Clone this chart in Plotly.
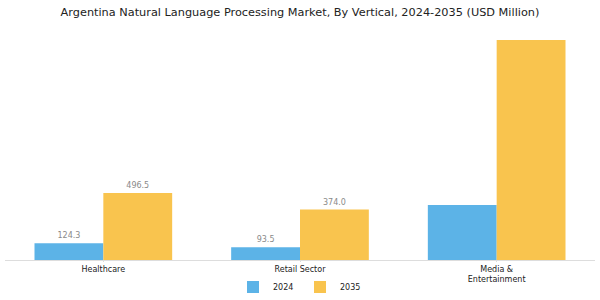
import plotly.graph_objects as go

categories = ["Healthcare", "Retail Sector", "Media &<br>Entertainment"]
years = ["2024", "2035"]
values_2024 = [124.3, 93.5, 408.0]
values_2035 = [496.5, 374.0, 1630.0]
labels_2024 = ["124.3", "93.5", ""]
labels_2035 = ["496.5", "374.0", ""]
colors = ["#5cb3e7", "#f9c44e"]

fig = go.Figure()
for name, vals, labs, col in zip(years, [values_2024, values_2035], [labels_2024, labels_2035], colors):
    fig.add_trace(go.Bar(
        x=categories, y=vals, name=name, text=labs,
        textposition="outside", cliponaxis=False,
        textfont=dict(size=8, color="#8a8a8a", family="DejaVu Sans"),
        marker=dict(color=col, line=dict(width=0)),
    ))

ymax = max(values_2035) * 1.045
fig.update_layout(
    width=600, height=300,
    margin=dict(l=5, r=5, t=30, b=40, autoexpand=False),
    barmode="group", bargap=0.3, bargroupgap=0,
    plot_bgcolor="white", paper_bgcolor="white",
    font=dict(family="DejaVu Sans", color="#222222"),
    title=dict(text="Argentina Natural Language Processing Market, By Vertical, 2024-2035 (USD Million)",
               x=0.5, xanchor="center", y=1 - 12 / 300, yref="container", yanchor="middle",
               font=dict(size=11.3, color="#222222")),
    legend=dict(orientation="h", x=0.5, xanchor="center", y=0.043, yref="container",
                yanchor="middle", font=dict(size=8), itemclick=False, itemwidth=30,
                bgcolor="rgba(0,0,0,0)", entrywidth=22, entrywidthmode="pixels"),
    uniformtext=dict(mode=False),
)
fig.update_xaxes(showline=True, linecolor="#dddddd", linewidth=1, ticks="outside",
                 ticklen=1, tickcolor="#dddddd", tickfont=dict(size=8, color="#222222"),
                 showgrid=False)
fig.update_yaxes(visible=False, range=[0, ymax], showgrid=False)
fig.write_html("out.html")
